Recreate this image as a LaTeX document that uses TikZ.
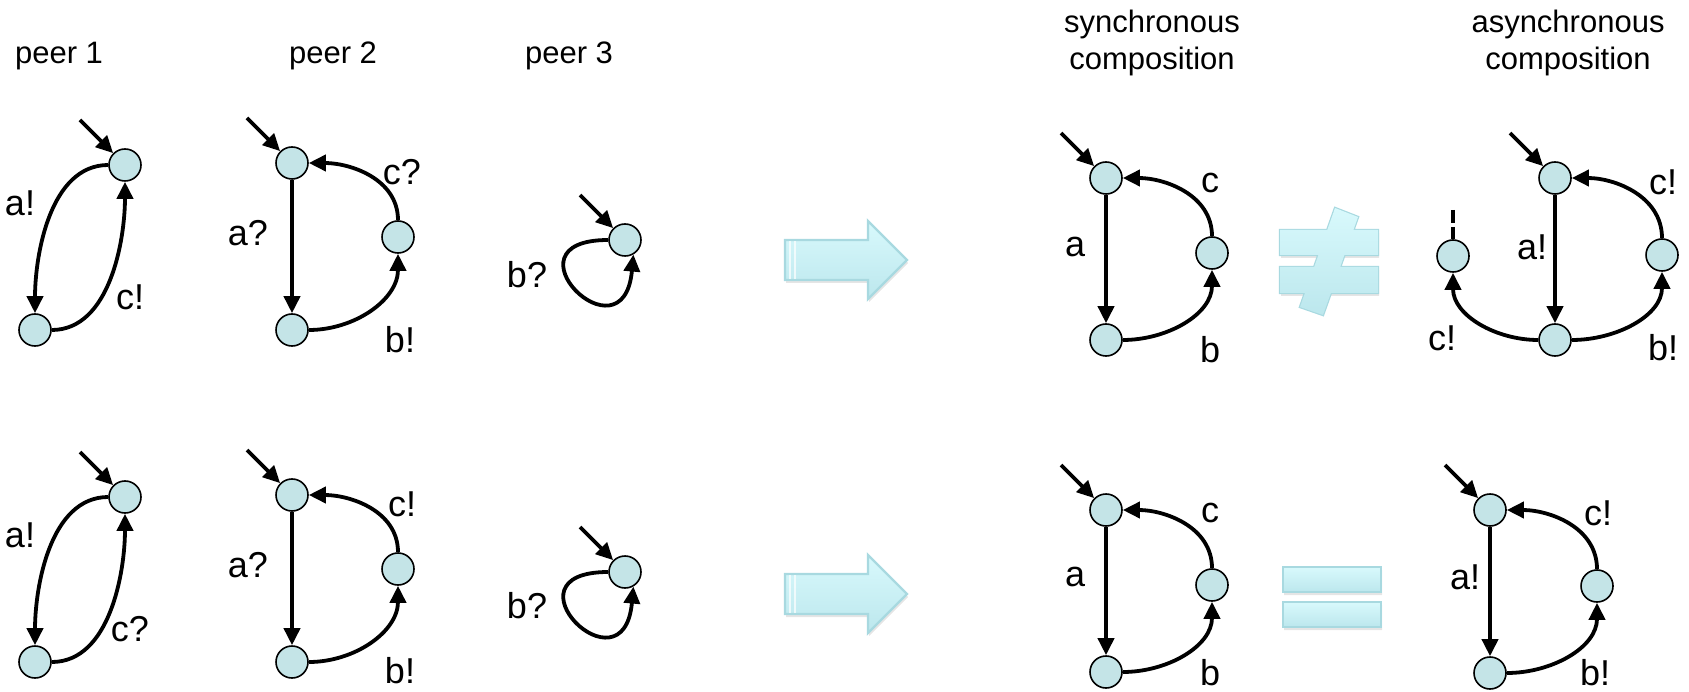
\documentclass[tikz,border=0pt]{standalone}
\usepackage{fontspec}
\setmainfont{Liberation Sans}
\usetikzlibrary{arrows.meta,shadows}

\definecolor{statefill}{RGB}{196,228,231}
\definecolor{signtop}{RGB}{216,249,252}
\definecolor{signbot}{RGB}{188,231,237}
\definecolor{signedge}{RGB}{168,217,224}

\tikzset{
  state/.style={circle,draw=black,line width=0.8pt,fill=statefill,
                minimum size=16pt,inner sep=0pt},
  trans/.style={line width=1.9pt,-{Triangle[length=8.5pt,width=8pt]}},
  lbl/.style={inner sep=0pt,font=\fontsize{18}{21}\selectfont},
  head/.style={inner sep=0pt,align=center,font=\fontsize{15.5}{18.5}\selectfont},
  signfill/.style={top color=signtop,bottom color=signbot},
  signline/.style={draw=signedge,line width=1.2pt,line join=miter},
  signshadow/.style={fill=black,opacity=0.10},
  bigarrow/.pic={
    \fill[signshadow] (-60,-23) -- (23,-23) -- (23,-42) -- (62,-3) -- (23,36)
      -- (23,17) -- (-60,17) -- cycle;
    \path[signline,signfill] (-61,-20) -- (22,-20) -- (22,-39) -- (61,0)
      -- (22,39) -- (22,20) -- (-61,20) -- cycle;
    \draw[white,opacity=0.7,line width=0.8pt] (-56,-19) -- (-56,19)
      (-51,-19) -- (-51,19);
  }
}

\begin{document}
\begin{tikzpicture}[x=0.5pt,y=0.5pt]
\useasboundingbox (0,0) rectangle (1689,691);

% column headings
\node[head] (h1) at (59,635) {peer 1};
\node[head] (h2) at (333,635) {peer 2};
\node[head] (h3) at (569,635) {peer 3};
\node[head] (hs) at (1152,648) {synchronous\\composition};
\node[head] (ha) at (1568,648) {asynchronous\\composition};

% ---------- first row ----------
% peer 1
\node[state] (p1a) at (125,526) {};
\node[state] (p1b) at (35,361) {};
\coordinate (p1i) at ([shift={(-45,45)}]p1a.center);
\draw[trans] (p1i) -- (p1a);
\draw[trans] (p1a) to[out=180,in=90,looseness=0.9] (p1b);
\draw[trans] (p1b) to[out=0,in=-90,looseness=0.9] (p1a);
\node[lbl] (p1la) at (20,488) {a!};
\node[lbl] (p1lc) at (130,394) {c!};

% peer 2
\node[state] (q1a) at (292,528) {};
\node[state] (q1c) at (398,454) {};
\node[state] (q1b) at (292,361) {};
\coordinate (q1i) at ([shift={(-45,45)}]q1a.center);
\draw[trans] (q1i) -- (q1a);
\draw[trans] (q1a) -- (q1b);
\draw[trans] (q1b) to[out=0,in=-90] (q1c);
\draw[trans] (q1c) to[out=90,in=0] (q1a);
\node[lbl] (q1la) at (248,458) {a?};
\node[lbl] (q1lb) at (400,351) {b!};
\node[lbl] (q1lc) at (402,519) {c?};

% peer 3
\node[state] (r1) at (625,451) {};
\coordinate (r1i) at ([shift={(-45,45)}]r1.center);
\draw[trans] (r1i) -- (r1);
\draw[trans] (r1.west) .. controls +(-110,0) and +(-10,-110) .. (r1.-60);
\node[lbl] (r1lb) at (527,416) {b?};

% composition arrow
\pic (arr1) at (846,431) {bigarrow};

% synchronous composition
\node[state] (s1a) at (1106,513) {};
\node[state] (s1c) at (1212,438) {};
\node[state] (s1b) at (1106,351) {};
\coordinate (s1i) at ([shift={(-45,45)}]s1a.center);
\draw[trans] (s1i) -- (s1a);
\draw[trans] (s1a) -- (s1b);
\draw[trans] (s1b) to[out=0,in=-90] (s1c);
\draw[trans] (s1c) to[out=90,in=0] (s1a);
\node[lbl] (s1la) at (1075,444) {a};
\node[lbl] (s1lb) at (1210,341) {b};
\node[lbl] (s1lc) at (1210,508) {c};

% not-equal sign
\fill[signshadow] (1281,433) -- (1379,433) -- (1379,458) -- (1281,458) -- cycle
  (1281,395) -- (1379,395) -- (1379,421) -- (1281,421) -- cycle;
\path[signline] (1280,436) -- (1378,436) -- (1378,461) -- (1280,461) -- cycle
  (1280,398) -- (1378,398) -- (1378,424) -- (1280,424) -- cycle
  (1300,384) -- (1323,376) -- (1358,474) -- (1335,483) -- cycle;
\shade[signfill] (1280,436) -- (1378,436) -- (1378,461) -- (1280,461) -- cycle
  (1280,398) -- (1378,398) -- (1378,424) -- (1280,424) -- cycle
  (1300,384) -- (1323,376) -- (1358,474) -- (1335,483) -- cycle;

% asynchronous composition
\node[state] (t1a) at (1555,513) {};
\node[state] (t1c) at (1662,436) {};
\node[state] (t1b) at (1555,351) {};
\node[state] (t1d) at (1453,435) {};
\coordinate (t1i) at ([shift={(-45,45)}]t1a.center);
\coordinate (t1s) at (1453,481);
\draw[trans] (t1i) -- (t1a);
\draw[trans] (t1a) -- (t1b);
\draw[trans] (t1b) to[out=0,in=-90] (t1c);
\draw[trans] (t1c) to[out=90,in=0] (t1a);
\draw[trans] (t1b) to[out=180,in=-90] (t1d);
\draw[line width=2pt,dash pattern=on 6.5pt off 2pt] (t1s) -- (t1d);
\node[lbl] (t1la) at (1532,444) {a!};
\node[lbl] (t1lb) at (1663,343) {b!};
\node[lbl] (t1lc) at (1663,509) {c!};
\node[lbl] (t1ld) at (1442,353) {c!};

% ---------- second row ----------
% peer 1
\node[state] (p2a) at (125,194) {};
\node[state] (p2b) at (35,29) {};
\coordinate (p2i) at ([shift={(-45,45)}]p2a.center);
\draw[trans] (p2i) -- (p2a);
\draw[trans] (p2a) to[out=180,in=90,looseness=0.9] (p2b);
\draw[trans] (p2b) to[out=0,in=-90,looseness=0.9] (p2a);
\node[lbl] (p2la) at (20,156) {a!};
\node[lbl] (p2lc) at (130,62) {c?};

% peer 2
\node[state] (q2a) at (292,196) {};
\node[state] (q2c) at (398,122) {};
\node[state] (q2b) at (292,29) {};
\coordinate (q2i) at ([shift={(-45,45)}]q2a.center);
\draw[trans] (q2i) -- (q2a);
\draw[trans] (q2a) -- (q2b);
\draw[trans] (q2b) to[out=0,in=-90] (q2c);
\draw[trans] (q2c) to[out=90,in=0] (q2a);
\node[lbl] (q2la) at (248,126) {a?};
\node[lbl] (q2lb) at (400,20) {b!};
\node[lbl] (q2lc) at (402,187) {c!};

% peer 3
\node[state] (r2) at (625,119) {};
\coordinate (r2i) at ([shift={(-45,45)}]r2.center);
\draw[trans] (r2i) -- (r2);
\draw[trans] (r2.west) .. controls +(-110,0) and +(-10,-110) .. (r2.-60);
\node[lbl] (r2lb) at (527,85) {b?};

% composition arrow
\pic (arr2) at (846,97) {bigarrow};

% synchronous composition
\node[state] (s2a) at (1106,181) {};
\node[state] (s2c) at (1212,106) {};
\node[state] (s2b) at (1106,19) {};
\coordinate (s2i) at ([shift={(-45,45)}]s2a.center);
\draw[trans] (s2i) -- (s2a);
\draw[trans] (s2a) -- (s2b);
\draw[trans] (s2b) to[out=0,in=-90] (s2c);
\draw[trans] (s2c) to[out=90,in=0] (s2a);
\node[lbl] (s2la) at (1075,114) {a};
\node[lbl] (s2lb) at (1210,18) {b};
\node[lbl] (s2lc) at (1210,178) {c};

% equal sign
\fill[signshadow] (1284,96) -- (1382,96) -- (1382,121) -- (1284,121) -- cycle
  (1284,61) -- (1382,61) -- (1382,86) -- (1284,86) -- cycle;
\path[signline,signfill] (1283,99) -- (1381,99) -- (1381,124) -- (1283,124) -- cycle;
\path[signline,signfill] (1283,64) -- (1381,64) -- (1381,89) -- (1283,89) -- cycle;

% asynchronous composition
\node[state] (t2a) at (1490,181) {};
\node[state] (t2c) at (1597,105) {};
\node[state] (t2b) at (1490,18) {};
\coordinate (t2i) at ([shift={(-45,45)}]t2a.center);
\draw[trans] (t2i) -- (t2a);
\draw[trans] (t2a) -- (t2b);
\draw[trans] (t2b) to[out=0,in=-90] (t2c);
\draw[trans] (t2c) to[out=90,in=0] (t2a);
\node[lbl] (t2la) at (1465,114) {a!};
\node[lbl] (t2lb) at (1595,18) {b!};
\node[lbl] (t2lc) at (1598,178) {c!};
\end{tikzpicture}
\end{document}
